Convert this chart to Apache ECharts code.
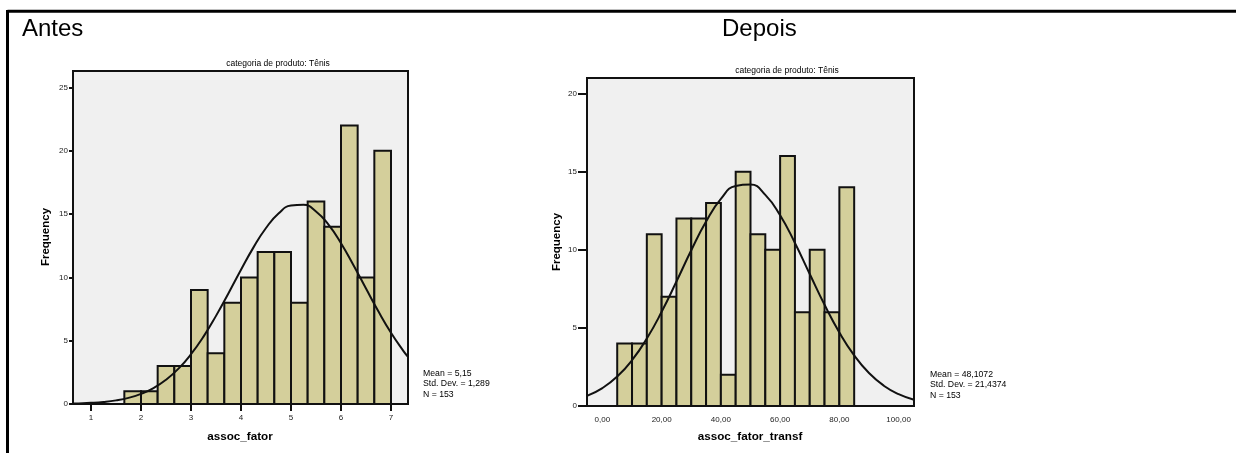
<!DOCTYPE html>
<html><head><meta charset="utf-8">
<script src="https://cdn.jsdelivr.net/npm/echarts@6/dist/echarts.min.js"></script>
<style>html,body{margin:0;padding:0;background:#fff}#c{width:1236px;height:453px}</style>
</head><body><div id="c"></div>
<script>
// ---- data ----
const panelTitles = ['Antes', 'Depois'];
const subTitle = 'categoria de produto: Tênis';
const yAxisName = 'Frequency';
const xAxisNames = ['assoc_fator', 'assoc_fator_transf'];

const leftEdges = [1.6667, 2, 2.3333, 2.6667, 3, 3.3333, 3.6667, 4, 4.3333, 4.6667, 5, 5.3333, 5.6667, 6, 6.3333, 6.6667, 7];
const leftCounts = [1, 1, 3, 3, 9, 4, 8, 10, 12, 12, 8, 16, 14, 22, 10, 20];
const leftCurveX = [0.64, 0.75, 1, 1.25, 1.5, 1.75, 2, 2.25, 2.5, 2.75, 3, 3.25, 3.5, 3.75, 4, 4.25, 4.5, 4.75, 5, 5.25, 5.5, 5.75, 6, 6.25, 6.5, 6.75, 7, 7.25, 7.34];
const leftCurveY = [0.035, 0.047, 0.089, 0.162, 0.286, 0.486, 0.797, 1.256, 1.91, 2.79, 3.93, 5.32, 6.96, 8.75, 10.6, 12.37, 13.9, 15.04, 15.67, 15.73, 15.21, 14.16, 12.7, 10.96, 9.12, 7.3, 5.63, 4.18, 3.73];
const leftXTicks = [1, 2, 3, 4, 5, 6, 7];
const leftXLabels = ['1', '2', '3', '4', '5', '6', '7'];
const leftYTicks = [0, 5, 10, 15, 20, 25];
const leftStats = ['Mean = 5,15', 'Std. Dev. = 1,289', 'N = 153'];

const rightEdges = [5, 10, 15, 20, 25, 30, 35, 40, 45, 50, 55, 60, 65, 70, 75, 80, 85];
const rightCounts = [4, 4, 11, 7, 12, 12, 13, 2, 15, 11, 10, 16, 6, 10, 6, 14];
const rightCurveX = [-5.2, 0, 5, 10, 15, 20, 25, 30, 35, 40, 45, 50, 55, 60, 65, 70, 75, 80, 85, 90, 95, 100, 105.2];
const rightCurveY = [0.646, 1.148, 1.885, 2.93, 4.32, 6.03, 7.97, 9.97, 11.81, 13.26, 14.09, 14.18, 13.52, 12.21, 10.44, 8.45, 6.48, 4.71, 3.24, 2.11, 1.3, 0.76, 0.4];
const rightXTicks = [0, 20, 40, 60, 80, 100];
const rightXLabels = ['0,00', '20,00', '40,00', '60,00', '80,00', '100,00'];
const rightYTicks = [0, 5, 10, 15, 20];
const rightStats = ['Mean = 48,1072', 'Std. Dev. = 21,4374', 'N = 153'];

// ---- chart ----
const FONT = '"Liberation Sans", Arial, Helvetica, sans-serif';
const BAR = '#d4cf9b';
const INK = '#111';

function barsFrom(edges, counts) { return counts.map((c, i) => [edges[i], edges[i + 1], c]); }
function curveFrom(xs, ys) { return xs.map((x, i) => [x, ys[i]]); }
function renderBar(params, api) {
  const p0 = api.coord([api.value(0), api.value(2)]);
  const p1 = api.coord([api.value(1), 0]);
  return { type: 'rect', shape: { x: p0[0], y: p0[1], width: p1[0] - p0[0], height: p1[1] - p0[1] },
    style: { fill: BAR, stroke: INK, lineWidth: 2 } };
}
function xAxisCfg(gi, min, max, ticks, labels, showTick) {
  return { gridIndex: gi, type: 'value', min: min, max: max,
    axisLine: { show: true, onZero: false, lineStyle: { color: INK, width: 2 } },
    splitLine: { show: false },
    axisTick: { show: showTick, customValues: ticks, length: 7, lineStyle: { color: INK, width: 2 } },
    axisLabel: { customValues: ticks, margin: 10, fontSize: 8, color: '#222', fontFamily: FONT,
      formatter: v => labels[ticks.indexOf(v)] } };
}
function yAxisCfg(gi, max, ticks, tickLen, margin) {
  return { gridIndex: gi, type: 'value', min: 0, max: max,
    axisLine: { show: true, onZero: false, lineStyle: { color: INK, width: 2 } },
    splitLine: { show: false },
    axisTick: { customValues: ticks, length: tickLen, lineStyle: { color: INK, width: 2 } },
    axisLabel: { customValues: ticks, margin: margin, fontSize: 8, color: '#222', fontFamily: FONT } };
}
function txt(x, y, text, font, align, rot) {
  const e = { type: 'text', x: x, y: y, silent: true,
    style: { text: text, font: font, fill: '#000', textAlign: align || 'left', textVerticalAlign: 'middle' } };
  if (rot) e.rotation = rot;
  return e;
}

const chart = echarts.init(document.getElementById('c'), null, { renderer: 'canvas' });
const gridStyle = { show: true, backgroundColor: '#f0f0f0', borderColor: INK, borderWidth: 2 };
const statFont = '8.7px ' + FONT;
chart.setOption({
  animation: false,
  backgroundColor: '#fff',
  grid: [
    Object.assign({ left: 73, top: 71, width: 335, height: 333 }, gridStyle),
    Object.assign({ left: 587, top: 78, width: 327, height: 328 }, gridStyle)
  ],
  xAxis: [
    xAxisCfg(0, 0.64, 7.34, leftXTicks, leftXLabels, true),
    xAxisCfg(1, -5.2, 105.2, rightXTicks, rightXLabels, false)
  ],
  yAxis: [
    yAxisCfg(0, 26.3, leftYTicks, 4, 5),
    yAxisCfg(1, 21, rightYTicks, 9, 10)
  ],
  series: [
    { type: 'custom', xAxisIndex: 0, yAxisIndex: 0, renderItem: renderBar, encode: { x: [0, 1], y: 2 }, data: barsFrom(leftEdges, leftCounts), z: 2 },
    { type: 'line', xAxisIndex: 0, yAxisIndex: 0, data: curveFrom(leftCurveX, leftCurveY), smooth: true, showSymbol: false, lineStyle: { color: INK, width: 2 }, z: 3 },
    { type: 'custom', xAxisIndex: 1, yAxisIndex: 1, renderItem: renderBar, encode: { x: [0, 1], y: 2 }, data: barsFrom(rightEdges, rightCounts), z: 2 },
    { type: 'line', xAxisIndex: 1, yAxisIndex: 1, data: curveFrom(rightCurveX, rightCurveY), smooth: true, showSymbol: false, lineStyle: { color: INK, width: 2 }, z: 3 }
  ],
  graphic: [
    { type: 'line', silent: true, shape: { x1: 7.5, y1: 11.3, x2: 1236, y2: 11.3 }, style: { stroke: '#000', lineWidth: 3 } },
    { type: 'line', silent: true, shape: { x1: 7.5, y1: 10, x2: 7.5, y2: 453 }, style: { stroke: '#000', lineWidth: 3 } },
    txt(22, 29, panelTitles[0], '24px ' + FONT),
    txt(722, 29, panelTitles[1], '24px ' + FONT),
    txt(278, 64, subTitle, '8.5px ' + FONT, 'center'),
    txt(787, 71, subTitle, '8.5px ' + FONT, 'center'),
    txt(46, 237, yAxisName, 'bold 11.5px ' + FONT, 'center', Math.PI / 2),
    txt(557, 242, yAxisName, 'bold 11.5px ' + FONT, 'center', Math.PI / 2),
    txt(240, 437, xAxisNames[0], 'bold 11.7px ' + FONT, 'center'),
    txt(750, 437, xAxisNames[1], 'bold 11.7px ' + FONT, 'center'),
    txt(423, 374, leftStats[0], statFont),
    txt(423, 384, leftStats[1], statFont),
    txt(423, 394.5, leftStats[2], statFont),
    txt(930, 375, rightStats[0], statFont),
    txt(930, 385, rightStats[1], statFont),
    txt(930, 395.5, rightStats[2], statFont)
  ]
});
</script></body></html>
